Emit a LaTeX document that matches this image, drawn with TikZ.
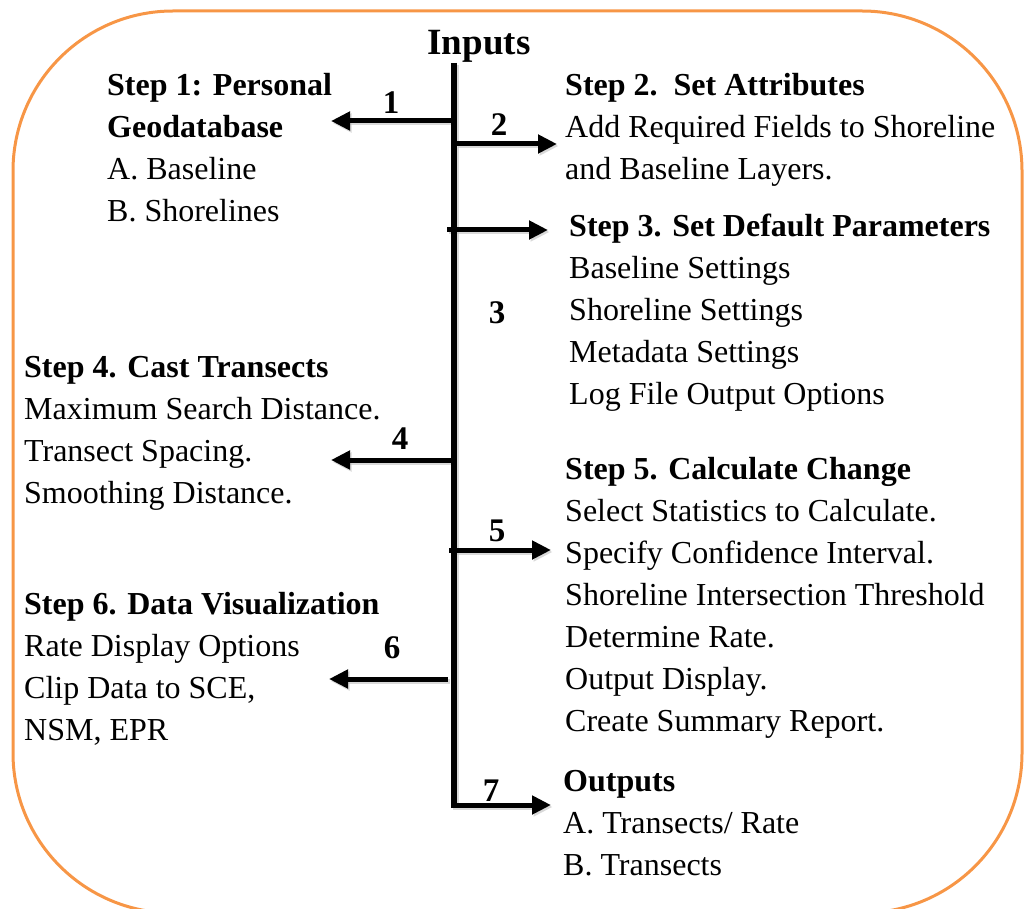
\documentclass[tikz,border=0pt]{standalone}
\usepackage{fontspec}
\setmainfont{Liberation Serif}
\usetikzlibrary{arrows.meta}
\definecolor{frameorange}{RGB}{247,150,70}
\begin{document}
\begin{tikzpicture}[x=1pt,y=-1pt,
  txt/.style={inner sep=0pt, anchor=base west, align=left, font=\fontsize{32}{42}\selectfont},
  num/.style={inner sep=0pt, anchor=base, font=\fontsize{33}{36}\selectfont\bfseries},
  spine/.style={line width=6pt},
  arr/.style={line width=5pt, -{Triangle[length=19pt,width=18pt]}},
  shd/.style={draw=black!25, opacity=0.6, transform canvas={shift={(1.5pt,-2pt)}}}]
\useasboundingbox (0,0) rectangle (1027,909);
\draw[frameorange, line width=3pt, rounded corners=160pt] (13,11) rectangle (1022,913);
% title
\node[inner sep=0pt, anchor=base, font=\fontsize{37}{40}\selectfont\bfseries] (inputs) at (479,55) {Inputs};
% spine and arrow coordinates
\coordinate (top) at (454,63);
\coordinate (bot) at (454,805);
\coordinate (s1) at (454,121);
\coordinate (s2) at (456,144);
\coordinate (s3) at (447,230);
\coordinate (s4) at (454,460);
\coordinate (s5) at (449,550);
\coordinate (s6) at (448,679);
\coordinate (t1) at (331,121);
\coordinate (t2) at (557,144);
\coordinate (t3) at (548,230);
\coordinate (t4) at (331,460);
\coordinate (t5) at (551,550);
\coordinate (t6) at (329,679);
\coordinate (t7) at (551,805);
% soft shadows
\begin{scope}[shd]
\draw[spine] (top) -- (bot);
\draw[arr] (s1) -- (t1);
\draw[arr] (s2) -- (t2);
\draw[arr] (s3) -- (t3);
\draw[arr] (s4) -- (t4);
\draw[arr] (s5) -- (t5);
\draw[arr] (s6) -- (t6);
\draw[arr] ([xshift=-3pt]bot) -- (t7);
\end{scope}
% connectors
\draw[spine] (top) -- (bot);
\draw[arr] (s1) -- (t1);
\draw[arr] (s2) -- (t2);
\draw[arr] (s3) -- (t3);
\draw[arr] (s4) -- (t4);
\draw[arr] (s5) -- (t5);
\draw[arr] (s6) -- (t6);
\draw[arr] ([xshift=-3pt]bot) -- (t7);
% numbers
\node[num] (l1) at (391,114) {1};
\node[num] (l2) at (499,136) {2};
\node[num] (l3) at (497,323) {3};
\node[num] (l4) at (400,449) {4};
\node[num] (l5) at (497,541) {5};
\node[num] (l6) at (392,658) {6};
\node[num] (l7) at (491,801) {7};
% text blocks (anchor = baseline of last line)
\node[txt] (b1) at (107,222) {\textbf{Step 1: Personal}\\\textbf{Geodatabase}\\A. Baseline\\B. Shorelines};
\node[txt] (b2) at (565,180) {\textbf{Step 2.\ \ Set Attributes}\\Add Required Fields to Shoreline\\and Baseline Layers.};
\node[txt] (b3) at (569,404) {\textbf{Step 3. Set Default Parameters}\\Baseline Settings\\Shoreline Settings\\Metadata Settings\\Log File Output Options};
\node[txt] (b4) at (24,503) {\textbf{Step 4. Cast Transects}\\Maximum Search Distance.\\Transect Spacing.\\Smoothing Distance.};
\node[txt] (b5) at (565,731) {\textbf{Step 5. Calculate Change}\\Select Statistics to Calculate.\\Specify Confidence Interval.\\Shoreline Intersection Threshold\\Determine Rate.\\Output Display.\\Create Summary Report.};
\node[txt] (b6) at (24,740) {\textbf{Step 6. Data Visualization}\\Rate Display Options\\Clip Data to SCE,\\NSM, EPR};
\node[txt] (b7) at (563,875) {\textbf{Outputs}\\A. Transects/ Rate\\B. Transects};
\end{tikzpicture}
\end{document}
